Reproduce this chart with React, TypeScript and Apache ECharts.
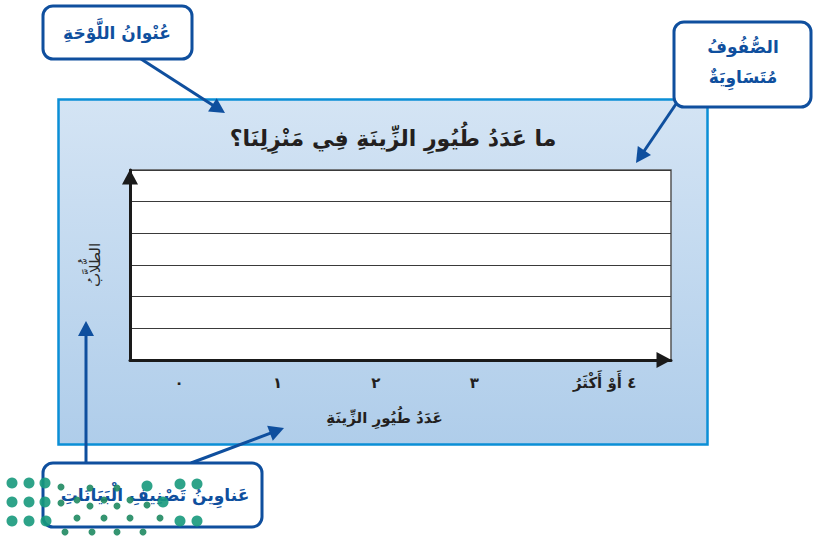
import React, { useEffect, useRef } from 'react';
import * as echarts from 'echarts';

// ---- data (empty template chart: categories and student counts) ----
const xCategories = ['٠', '١', '٢', '٣', '٤ أَوْ أَكْثَرُ'];
const studentCounts: number[] = [];
const yMin = 0;
const yMax = 6;
const yInterval = 1;
const chartTitle = 'ما عَدَدُ طُيُورِ الزِّينَةِ فِي مَنْزِلِنَا؟';
const xAxisName = 'عَدَدُ طُيُورِ الزِّينَةِ';
const yAxisName = 'الطُّلاَّبُ';
const calloutTitle = 'عُنْوانُ اللَّوْحَةِ';
const calloutRows = ['الصُّفُوفُ', 'مُتَسَاوِيَةٌ'];
const calloutLabels = 'عَناوِينُ تَصْنِيفِ الْبَيَانَاتِ';

const FONT = 'DejaVu Sans';
const BLUE = '#0f4f9e';
const INK = '#231f20';

function arrow(x1: number, y1: number, x2: number, y2: number) {
  const head = 15;
  const half = 8;
  const dx = x2 - x1;
  const dy = y2 - y1;
  const L = Math.hypot(dx, dy);
  const ux = dx / L;
  const uy = dy / L;
  const bx = x2 - ux * head;
  const by = y2 - uy * head;
  const px = -uy;
  const py = ux;
  return [
    {
      type: 'line',
      z: 99,
      shape: { x1, y1, x2: bx + ux * 2, y2: by + uy * 2 },
      style: { stroke: BLUE, lineWidth: 3 },
    },
    {
      type: 'polygon',
      z: 99,
      shape: {
        points: [
          [x2, y2],
          [bx + px * half, by + py * half],
          [bx - px * half, by - py * half],
        ],
      },
      style: { fill: BLUE },
    },
  ];
}

function box(x: number, y: number, w: number, h: number) {
  return {
    type: 'rect',
    z: 100,
    shape: { x, y, width: w, height: h, r: 10 },
    style: { fill: '#ffffff', stroke: BLUE, lineWidth: 3 },
  };
}

function label(text: string, x: number, y: number, size: number) {
  return {
    type: 'text',
    z: 101,
    x,
    y,
    style: {
      text,
      fill: BLUE,
      font: `bold ${size}px "${FONT}"`,
      textAlign: 'center',
      textVerticalAlign: 'middle',
    },
  };
}

const bigDots = [
  [12, 483], [29, 483], [45, 483], [12, 502], [29, 502], [45, 502],
  [12, 521], [29, 521], [46, 521], [180, 484], [197, 484], [163, 502],
  [180, 521], [197, 521], [147, 486],
];
const smallDots = [
  [61, 487], [61, 503], [77, 500], [90, 506], [104, 500], [117, 506],
  [130, 500], [147, 505], [77, 518], [104, 518], [130, 518], [160, 518],
  [65, 532], [92, 532], [117, 532], [143, 532], [90, 488], [117, 488],
];

export default function App() {
  const ref = useRef<HTMLDivElement>(null);

  useEffect(() => {
    if (!ref.current) return;
    const chart = echarts.init(ref.current, null, { renderer: 'svg' });

    const graphics: any[] = [
      {
        type: 'rect',
        z: -10,
        shape: { x: 58.5, y: 99.5, width: 649, height: 345 },
        style: {
          fill: {
            type: 'linear', x: 0, y: 0, x2: 0, y2: 1,
            colorStops: [
              { offset: 0, color: '#d4e4f4' },
              { offset: 1, color: '#afcdea' },
            ],
          },
          stroke: '#0b8fd6',
          lineWidth: 2.5,
        },
      },
      {
        type: 'text',
        z: 10,
        x: 393,
        y: 138,
        style: {
          text: chartTitle,
          fill: INK,
          font: `bold 22px "${FONT}"`,
          textAlign: 'center',
          textVerticalAlign: 'middle',
        },
      },
      ...arrow(141, 59, 225, 113),
      ...arrow(676, 104, 636, 163),
      ...arrow(86, 463, 86, 321),
      ...arrow(191, 463, 284, 428),
      box(43, 6, 149, 53),
      label(calloutTitle, 117, 33, 17),
      box(674, 22, 137, 85),
      label(calloutRows[0], 743, 47, 17),
      label(calloutRows[1], 743, 77, 17),
      box(43, 463, 219, 64),
      label(calloutLabels, 155, 495, 17),
      ...bigDots.map(([cx, cy]) => ({
        type: 'circle',
        z: 102,
        shape: { cx, cy, r: 5.5 },
        style: { fill: '#17997c', opacity: 0.9 },
      })),
      ...smallDots.map(([cx, cy]) => ({
        type: 'circle',
        z: 102,
        shape: { cx, cy, r: 3.5 },
        style: { fill: '#1f8a62', opacity: 0.9 },
      })),
    ];

    chart.setOption({
      animation: false,
      textStyle: { fontFamily: FONT },
      grid: {
        left: 130,
        top: 170,
        width: 541,
        height: 190,
        show: true,
        backgroundColor: '#ffffff',
        borderColor: '#555555',
        borderWidth: 1.5,
      },
      xAxis: {
        type: 'value',
        min: -0.5,
        max: 5,
        interval: 0.5,
        name: xAxisName,
        nameLocation: 'middle',
        nameGap: 50,
        nameTextStyle: {
          fontSize: 15,
          fontWeight: 'bold',
          color: INK,
          fontFamily: FONT,
          padding: [0, 32, 0, 0],
        },
        axisLine: {
          show: true,
          onZero: false,
          lineStyle: { color: '#1a1a1a', width: 3 },
          symbol: ['none', 'triangle'],
          symbolSize: [16, 15],
          symbolOffset: [0, -7],
        },
        axisTick: { show: false },
        splitLine: { show: false },
        axisLabel: {
          margin: 15,
          fontSize: 15,
          fontWeight: 'bold',
          color: INK,
          fontFamily: FONT,
          showMinLabel: false,
          showMaxLabel: false,
          formatter: (v: number) => {
            if (Math.abs(v - Math.round(v)) > 1e-6) return '';
            const i = Math.round(v);
            if (i < 0 || i >= xCategories.length) return '';
            if (i === xCategories.length - 1) return '{r|' + xCategories[i] + '}';
            return xCategories[i];
          },
          rich: {
            r: {
              fontSize: 15,
              fontWeight: 'bold',
              color: INK,
              fontFamily: FONT,
              padding: [0, 0, 0, 64],
            },
          },
        },
      },
      yAxis: {
        type: 'value',
        min: yMin,
        max: yMax,
        interval: yInterval,
        name: yAxisName,
        nameLocation: 'middle',
        nameGap: 28,
        nameTextStyle: { fontSize: 15, color: '#2a2a2a', fontFamily: FONT },
        axisLine: {
          show: true,
          onZero: false,
          lineStyle: { color: '#1a1a1a', width: 3 },
          symbol: ['none', 'triangle'],
          symbolSize: [16, 15],
          symbolOffset: [0, -7],
        },
        axisTick: { show: false },
        axisLabel: { show: false },
        splitLine: { show: true, lineStyle: { color: '#3a3a3a', width: 1 } },
      },
      series: [
        {
          type: 'bar',
          data: studentCounts,
        },
      ],
      graphic: graphics,
    });

    return () => chart.dispose();
  }, []);

  return (
    <div
      ref={ref}
      style={{ position: 'fixed', left: 0, top: 0, width: 813, height: 536, background: '#ffffff' }}
    />
  );
}
